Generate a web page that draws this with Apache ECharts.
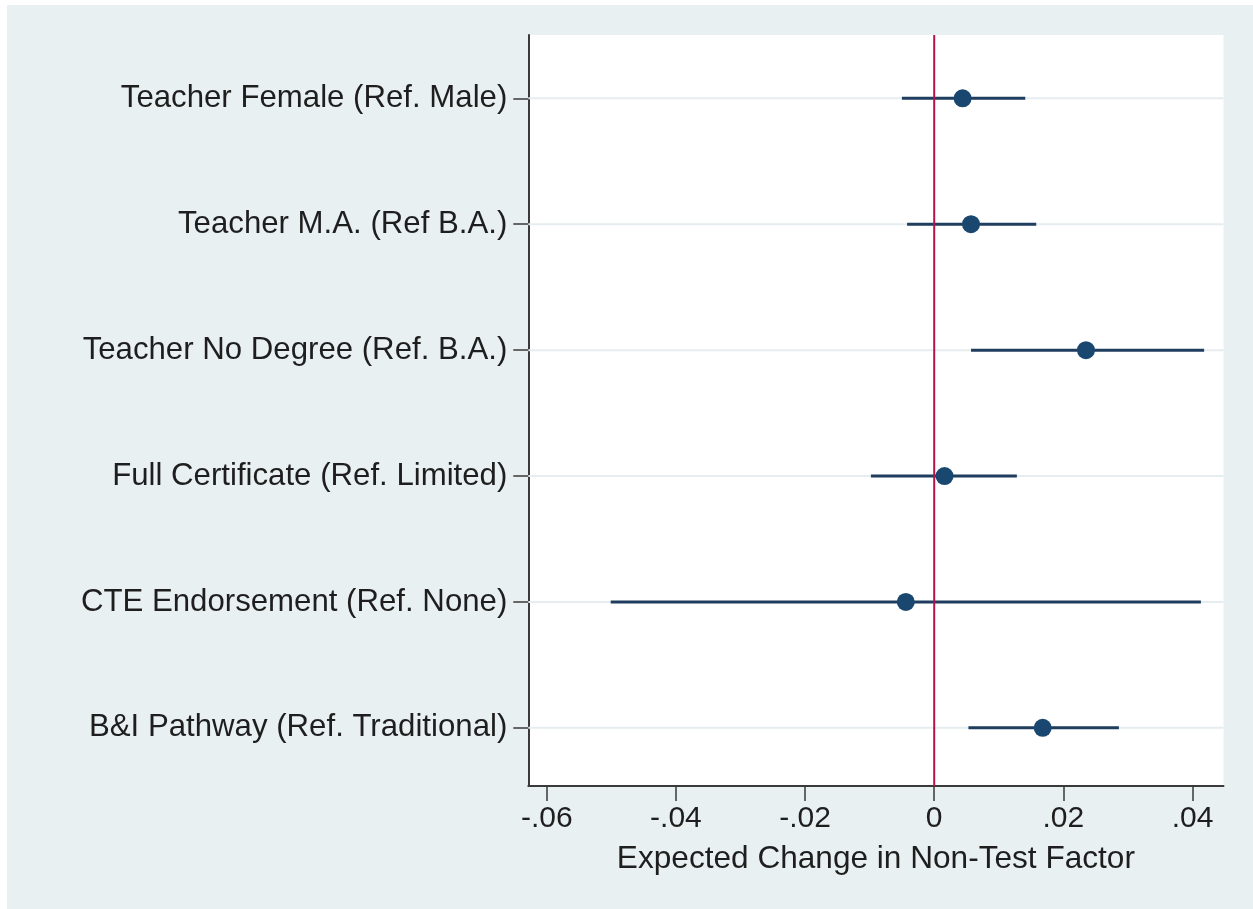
<!DOCTYPE html>
<html>
<head>
<meta charset="utf-8">
<script src="https://cdn.jsdelivr.net/npm/echarts@6/dist/echarts.min.js"></script>
<style>
  html, body { margin: 0; padding: 0; background: #e9f0f2; overflow: hidden; width: 100%; height: 100%; }
  #chart { position: absolute; left: 7px; top: 5px; width: 1246px; height: 904px; }
  #mtop { position: absolute; left: 0; top: 0; width: 100%; height: 5px; background: #ffffff; }
  #mleft { position: absolute; left: 0; top: 0; width: 7px; height: 100%; background: #ffffff; }
</style>
</head>
<body>
<div id="mtop"></div>
<div id="mleft"></div>
<div id="chart"></div>
<script>
// ---- data ----
const categories = [
  'Teacher Female (Ref. Male)',
  'Teacher M.A. (Ref B.A.)',
  'Teacher No Degree (Ref. B.A.)',
  'Full Certificate (Ref. Limited)',
  'CTE Endorsement (Ref. None)',
  'B&I Pathway (Ref. Traditional)'
];
const estimates = [0.0044, 0.0057, 0.0235, 0.0016, -0.0044, 0.0168];
const lowerCI   = [-0.0050, -0.0042, 0.0057, -0.0098, -0.0501, 0.0053];
const upperCI   = [0.0141, 0.0158, 0.0418, 0.0128, 0.0413, 0.0286];
const xTickValues = [-0.06, -0.04, -0.02, 0, 0.02, 0.04];
const xTickLabels = ['-.06', '-.04', '-.02', '0', '.02', '.04'];
const xTitle = 'Expected Change in Non-Test Factor';

// rows: first category at top
const n = categories.length;
const rowPos = categories.map((c, i) => n - i);
const rowTicks = rowPos.slice().sort((a, b) => a - b);

const FONT = "'Liberation Sans', Arial, Helvetica, sans-serif";
const TXT = '#1e1e1e';

const chart = echarts.init(document.getElementById('chart'), null, { renderer: 'canvas' });

const option = {
  backgroundColor: '#e9f0f2',
  animation: false,
  grid: {
    left: 521.3, right: 29.5, top: 30, bottom: 123,
    show: true, backgroundColor: '#ffffff', borderWidth: 0,
    containLabel: false
  },
  xAxis: {
    type: 'value',
    min: -0.06286, max: 0.0448,
    axisLine: { show: true, onZero: false, lineStyle: { color: '#3a3a3a', width: 2 } },
    axisTick: { show: true, length: 15, customValues: xTickValues, lineStyle: { color: '#3a3a3a', width: 1.5 } },
    axisLabel: {
      customValues: xTickValues,
      formatter: function (v) {
        const idx = xTickValues.findIndex(t => Math.abs(t - v) < 1e-9);
        return idx >= 0 ? xTickLabels[idx] : '';
      },
      margin: 18, fontSize: 30, color: TXT, fontFamily: FONT
    },
    splitLine: { show: false },
    name: xTitle,
    nameLocation: 'middle',
    nameGap: 57,
    nameTextStyle: { fontSize: 31.6, color: TXT, fontFamily: FONT }
  },
  yAxis: {
    type: 'value',
    min: 0.538, max: 6.503,
    axisLine: { show: true, onZero: false, lineStyle: { color: '#3a3a3a', width: 2 } },
    axisTick: { show: true, length: 15, customValues: rowTicks, lineStyle: { color: '#3a3a3a', width: 1.5 } },
    axisLabel: {
      customValues: rowTicks,
      formatter: function (v) {
        const idx = rowPos.findIndex(p => Math.abs(p - v) < 1e-9);
        return idx >= 0 ? categories[idx] : '';
      },
      margin: 21, fontSize: 31.2, color: TXT, fontFamily: FONT
    },
    splitLine: { show: false }
  },
  series: [
    {
      // horizontal gridlines at each row
      type: 'custom',
      silent: true,
      z: 1,
      data: rowPos.map(p => [0, p]),
      renderItem: function (params, api) {
        const cs = params.coordSys;
        const y = api.coord([0, api.value(1)])[1];
        return {
          type: 'line',
          shape: { x1: cs.x, y1: y, x2: cs.x + cs.width, y2: y },
          style: { stroke: '#e6edf0', lineWidth: 2 }
        };
      }
    },
    {
      // confidence intervals
      type: 'custom',
      silent: true,
      z: 2,
      data: categories.map((c, i) => [lowerCI[i], upperCI[i], rowPos[i]]),
      renderItem: function (params, api) {
        const a = api.coord([api.value(0), api.value(2)]);
        const b = api.coord([api.value(1), api.value(2)]);
        return {
          type: 'line',
          shape: { x1: a[0], y1: a[1], x2: b[0], y2: b[1] },
          style: { stroke: '#1f3d5e', lineWidth: 3 }
        };
      }
    },
    {
      // zero reference line
      type: 'custom',
      silent: true,
      z: 3,
      data: [[0]],
      renderItem: function (params, api) {
        const cs = params.coordSys;
        const x = api.coord([api.value(0), 1])[0];
        return {
          type: 'line',
          shape: { x1: x, y1: cs.y, x2: x, y2: cs.y + cs.height },
          style: { stroke: '#b8124a', lineWidth: 2 }
        };
      }
    },
    {
      // point estimates
      type: 'scatter',
      z: 4,
      symbol: 'circle',
      symbolSize: 18,
      itemStyle: { color: '#1a476f', opacity: 1 },
      data: categories.map((c, i) => [estimates[i], rowPos[i]])
    }
  ]
};
chart.setOption(option);
</script>
</body>
</html>
